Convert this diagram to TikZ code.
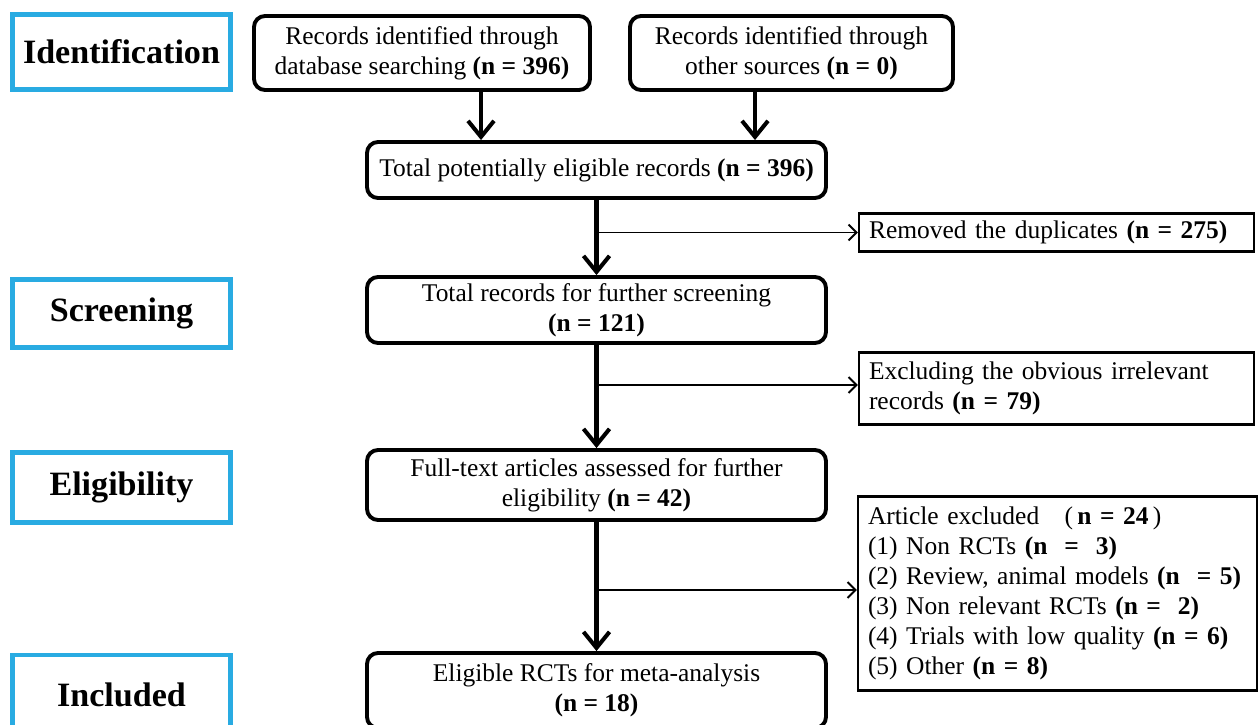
\documentclass[tikz,border=0pt]{standalone}
\usepackage{fontspec}
\setmainfont{Liberation Serif}
\usepackage[dvipsnames]{xcolor}
\usetikzlibrary{arrows.meta,positioning}
\definecolor{stageblue}{RGB}{41,171,226}

\begin{document}
\begin{tikzpicture}[
  font=\fontsize{14.5}{17}\selectfont,
  stage/.style={draw=stageblue,line width=2.8pt,minimum width=4.36cm,font=\fontsize{19.4}{23}\selectfont\bfseries},
  roundbox/.style={draw,line width=2.2pt,rounded corners=0.22cm,align=center,inner sep=2pt},
  sidebox/.style={draw,line width=1.2pt,align=left,text width=7.5cm,inner xsep=0.2cm,inner ysep=2pt},
  ]
  \tikzset{%
    mainarrow/.style={line width=2.3pt,-{Straight Barb[length=3.2mm,width=5.2mm]}},
    sidearrow/.style={line width=1.1pt,-{Straight Barb[length=1.6mm,width=3.2mm]}},
  }
  \clip (0,0) rectangle (25.2,-14.5);
  \fill[white] (0,0) rectangle (25.2,-14.5);
  %Stages
  \node[stage,minimum height=1.5cm](ident) at (2.43,-1.04){Identification};
  \node[stage,minimum height=1.36cm](screen) at (2.43,-6.27){Screening};
  \node[stage,minimum height=1.4cm](elig) at (2.43,-9.75){Eligibility};
  \node[stage,minimum height=1.6cm](incl) at (2.43,-13.9){\raisebox{-0.1cm}{Included}};
  %Nodes
  \node[roundbox,minimum width=6.72cm,minimum height=1.48cm](db) at (8.44,-1.06)
    {Records identified through\\database searching \textbf{(n = 396)}};
  \node[roundbox,minimum width=6.46cm,minimum height=1.48cm](other) at (15.83,-1.06)
    {Records identified through\\other sources \textbf{(n = 0)}};
  \node[roundbox,minimum width=9.18cm,minimum height=1.12cm](total) at (11.93,-3.4)
    {Total potentially eligible records \textbf{(n = 396)}};
  \node[roundbox,minimum width=9.18cm,minimum height=1.32cm](further) at (11.93,-6.2)
    {Total records for further screening\\\textbf{(n = 121)}};
  \node[roundbox,minimum width=9.18cm,minimum height=1.4cm](fulltext) at (11.93,-9.7)
    {Full-text articles assessed for further\\eligibility \textbf{(n = 42)}};
  \node[roundbox,minimum width=9.18cm,minimum height=1.5cm](final) at (11.93,-13.81)
    {Eligible RCTs for meta-analysis\\\textbf{(n = 18)}};
  \node[sidebox,minimum height=0.76cm](removed) at (21.13,-4.65)
    {Removed the duplicates \textbf{(n = 275)}};
  \node[sidebox,minimum height=1.44cm](irrel) at (21.13,-7.77)
    {Excluding the obvious irrelevant\\records \textbf{(n = 79)}};
  \node[sidebox,text width=7.58cm,minimum height=3.88cm](excl) at (21.15,-11.87)
    {Article excluded\quad(\,\textbf{n = 24}\,)\\
     (1) Non RCTs \textbf{(n ~=~ 3)}\\
     (2) Review, animal models \textbf{(n ~= 5)}\\
     (3) Non relevant RCTs \textbf{(n = ~2)}\\
     (4) Trials with low quality \textbf{(n = 6)}\\
     (5) Other \textbf{(n = 8)}};
  %Lines
  \draw[mainarrow] ([xshift=1.18cm]db.south) -- ([xshift=1.18cm]db.south |- total.north);
  \draw[mainarrow] ([xshift=-0.73cm]other.south) -- ([xshift=-0.73cm]other.south |- total.north);
  \draw[mainarrow] (total) -- (further);
  \draw[mainarrow] (further) -- (fulltext);
  \draw[mainarrow] (fulltext) -- (final);
  \draw[sidearrow] (removed.west -| total.south) -- (removed.west);
  \draw[sidearrow] ([yshift=0.07cm]irrel.west -| further.south) -- ([yshift=0.07cm]irrel.west);
  \draw[sidearrow] ([yshift=0.07cm]excl.west -| fulltext.south) -- ([yshift=0.07cm]excl.west);
\end{tikzpicture}
\end{document}
